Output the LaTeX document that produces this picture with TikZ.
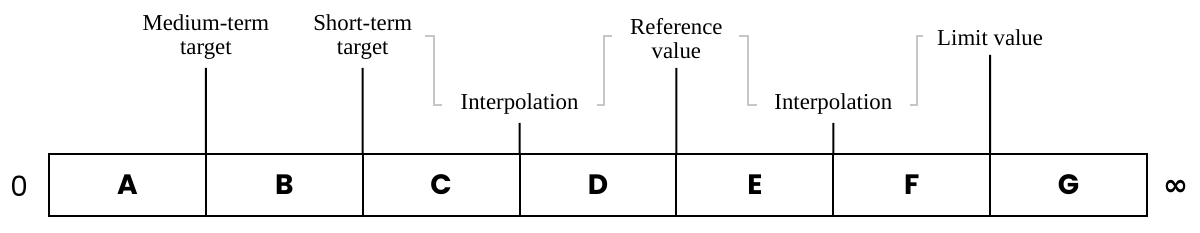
\documentclass[tikz,border=0pt]{standalone}
\usepackage{fontspec}
\setmainfont{Liberation Serif}
\newfontfamily\barfont{Poppins}
\newfontfamily\symfont{DejaVu Sans}
\begin{document}
\begin{tikzpicture}[x=0.5pt, y=-0.5pt, line width=1pt,
  cell/.style={draw, minimum width=78.43pt, minimum height=31pt, inner sep=0pt, outer sep=0pt, font=\barfont\bfseries\fontsize{14}{14}\selectfont},
  ticklabel/.style={align=center, anchor=south, inner sep=4.5pt, outer sep=0pt, font=\fontsize{11.4}{12}\selectfont},
  bracketline/.style={draw=gray!45, line width=1.2pt}]
\useasboundingbox (0,0) rectangle (1200,233);

% the bar of cells
\foreach \l [count=\i] in {A,B,C,D,E,F,G}
  \node[cell] (\l) at ({49+(\i-0.5)*156.857},185) {\l};
\node[anchor=east, inner sep=0pt, font=\barfont\fontsize{14}{14}\selectfont] (zero) at (29,186) {0};
\node[anchor=west, inner sep=0pt, font=\symfont\bfseries\fontsize{15}{15}\selectfont] (inf) at (1162,188) {∞};

% labels above the borders
\node[ticklabel] (mt) at (205.9,68) {Medium-term\\target};
\node[ticklabel] (st) at (362.7,68) {Short-term\\target};
\node[ticklabel] (ip1) at (519.6,123) {Interpolation};
\node[ticklabel] (rv) at (676.4,68) {Reference\\value};
\node[ticklabel] (ip2) at (833.3,123) {Interpolation};
\node[ticklabel] (lv) at (990.1,55) {Limit value};
\draw (A.north east) -- (mt.south);
\draw (B.north east) -- (st.south);
\draw (C.north east) -- (ip1.south);
\draw (D.north east) -- (rv.south);
\draw (E.north east) -- (ip2.south);
\draw (F.north east) -- (lv.south);

% grey brackets
\draw[bracketline] (425,36) -- (434,36) -- (434,105) -- (442,105);
\draw[bracketline] (612,36) -- (604,36) -- (604,105) -- (597,105);
\draw[bracketline] (739,36) -- (748,36) -- (748,105) -- (757,105);
\draw[bracketline] (923,36) -- (917,36) -- (917,105) -- (910,105);
\end{tikzpicture}
\end{document}
